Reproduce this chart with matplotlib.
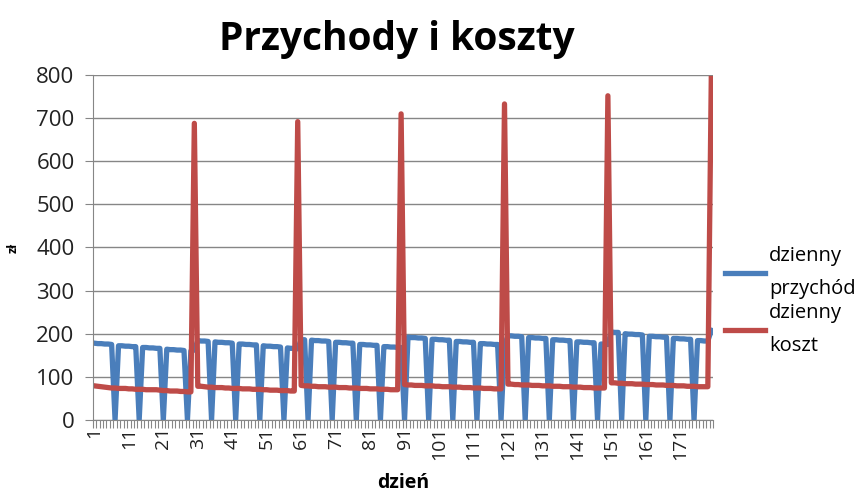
import numpy as np
import matplotlib.pyplot as plt

# daily revenue (dzienny przychód), days 1..180
przychod = [
    178, 177, 177, 176, 176, 175, 0,
    172, 172, 171, 171, 170, 170, 0,
    168, 168, 167, 167, 166, 166, 0,
    164, 163, 163, 162, 162, 161, 0,
    160, 162,
    184, 183, 183, 182, 0,
    181, 180, 180, 179, 179, 178, 0,
    176, 176, 175, 175, 174, 174, 0,
    172, 171, 171, 170, 170, 169, 0,
    167, 166, 166, 165,
    186, 186, 0,
    185, 184, 184, 183, 183, 182, 0,
    180, 180, 179, 179, 178, 178, 0,
    175, 175, 174, 174, 173, 173, 0,
    170, 170, 169, 169, 168, 168,
    0,
    192, 191, 191, 190, 190, 189, 0,
    187, 187, 186, 186, 185, 185, 0,
    182, 182, 181, 181, 180, 180, 0,
    177, 177, 176, 176, 175, 175, 0,
    174,
    195, 195, 194, 194, 193, 0,
    191, 191, 190, 190, 189, 189, 0,
    186, 186, 185, 185, 184, 184, 0,
    181, 181, 180, 180, 179, 179, 0,
    176, 176, 175,
    204, 203, 203, 0,
    200, 199, 199, 198, 198, 197, 0,
    194, 194, 193, 193, 192, 192, 0,
    189, 189, 188, 188, 187, 187, 0,
    184, 184, 183, 183, 208,
]

# daily cost (dzienny koszt), days 1..180
koszt = [
    79, 78, 77, 76, 75, 74, 74, 73, 73, 73,
    72, 72, 71, 71, 71, 70, 70, 70, 70, 69,
    68, 68, 67, 67, 67, 66, 66, 65, 65, 688,
    78, 78, 77, 76, 76, 75, 75, 75, 74, 74,
    73, 73, 73, 72, 72, 72, 71, 71, 71, 70,
    70, 69, 69, 69, 68, 68, 68, 67, 67, 692,
    80, 79, 79, 78, 78, 77, 77, 77, 76, 76,
    76, 75, 75, 75, 74, 74, 74, 73, 73, 73,
    72, 72, 72, 71, 71, 71, 70, 70, 70, 710,
    82, 81, 81, 80, 80, 80, 79, 79, 79, 78,
    78, 77, 77, 77, 76, 76, 76, 75, 75, 75,
    74, 74, 74, 73, 73, 73, 72, 72, 72, 733,
    83, 83, 82, 82, 81, 81, 81, 80, 80, 80,
    79, 79, 79, 78, 78, 78, 77, 77, 77, 76,
    76, 76, 75, 75, 75, 74, 74, 74, 74, 752,
    86, 86, 85, 85, 84, 84, 84, 83, 83, 83,
    82, 82, 82, 81, 81, 81, 80, 80, 80, 79,
    79, 79, 78, 78, 78, 77, 77, 77, 77, 792,
]

dni = np.arange(1, len(koszt) + 1)
etykiety = [str(d) for d in range(1, 180, 10)]

plt.rcParams['font.family'] = ['Open Sans', 'DejaVu Sans']

fig = plt.figure(figsize=(8.58, 4.94), dpi=100)
ax = fig.add_axes([0.108, 0.150, 0.723, 0.698])

grey = '#868686'
ax.plot(dni, przychod, color='#4A7EBB', lw=3.8, label='dzienny\nprzychód', solid_joinstyle='round')
ax.plot(dni, koszt, color='#BE4B48', lw=3.8, label='dzienny\nkoszt', solid_joinstyle='round')

ax.set_xlim(0.5, len(dni) + 0.5)
ax.set_ylim(0, 800)
ax.set_yticks(range(0, 801, 100))
ax.yaxis.grid(True, color=grey, lw=1)
ax.set_axisbelow(True)

ax.set_xticks(range(1, 180, 10))
ax.set_xticklabels(etykiety, rotation=90)
ax.set_xticks(np.arange(0.5, len(dni) + 1, 1), minor=True)
ax.tick_params(axis='x', which='major', length=0, pad=5, labelsize=14, colors='#222222')
ax.tick_params(axis='x', which='minor', length=6, color=grey, width=0.8)
ax.tick_params(axis='y', length=6, color=grey, labelsize=16, pad=7, labelcolor='#222222')

for s in ['top', 'right']:
    ax.spines[s].set_visible(False)
ax.spines['left'].set_color(grey)
ax.spines['bottom'].set_color(grey)

ax.set_title('Przychody i koszty', fontsize=28, fontweight='bold', pad=18, x=0.49)
ax.set_xlabel('dzień', fontsize=14, fontweight='bold', labelpad=9)
ax.set_ylabel('zł', fontsize=9, fontweight='bold', labelpad=12)

leg = ax.legend(loc='center left', bbox_to_anchor=(725 / 858, 0.391),
                bbox_transform=fig.transFigure, frameon=False, borderpad=0,
                borderaxespad=0, fontsize=14.5, handlelength=2.0,
                labelspacing=0.2, handletextpad=0.2)
for t in leg.get_texts():
    t.set_linespacing(1.85)

fig.savefig('out.png', dpi=100)
